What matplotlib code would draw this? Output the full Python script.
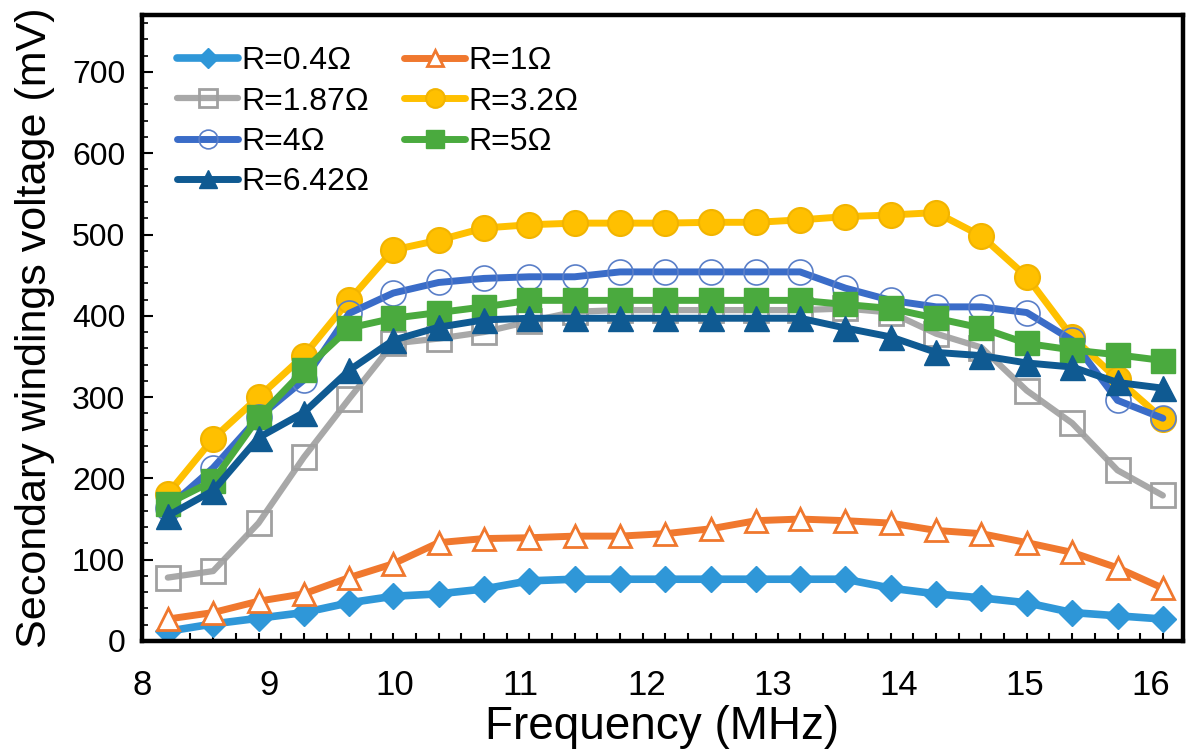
import numpy as np
import matplotlib
matplotlib.use("Agg")
import matplotlib.pyplot as plt
from matplotlib.ticker import FixedLocator, MultipleLocator

plt.rcParams['font.family'] = ['Liberation Sans', 'DejaVu Sans']

# Measurement frequencies (MHz)
freq = [8.20, 8.56, 8.92, 9.28, 9.64, 9.99, 10.35, 10.71, 11.07, 11.43, 11.79,
        12.15, 12.51, 12.87, 13.22, 13.58, 13.94, 14.30, 14.66, 15.02, 15.38,
        15.74, 16.10]

# Secondary windings voltage (mV) for each load resistance
v_r04 = [12, 21, 28, 35, 47, 55, 58, 64, 74, 76, 76, 76, 76, 76, 76, 76, 65,
         58, 53, 47, 35, 31, 27]
v_r1 = [27, 35, 49, 58, 78, 95, 121, 126, 127, 129, 129, 132, 138, 148, 150,
        148, 145, 136, 132, 121, 109, 90, 65]
v_r187 = [78, 86, 145, 226, 298, 366, 372, 380, 393, 405, 407, 407, 407, 407,
          407, 409, 404, 378, 361, 308, 268, 210, 179]
v_r32 = [181, 249, 300, 351, 419, 481, 493, 508, 512, 514, 514, 514, 515, 515,
         518, 522, 524, 527, 498, 448, 374, 322, 273]
v_r4 = [164, 213, 275, 321, 403, 428, 441, 446, 448, 448, 454, 454, 454, 454,
        454, 434, 419, 411, 411, 404, 370, 296, 274]
v_r5 = [169, 197, 275, 333, 385, 397, 404, 411, 419, 419, 419, 419, 419, 419,
        419, 414, 409, 397, 385, 366, 358, 352, 345]
v_r642 = [154, 185, 250, 281, 333, 370, 386, 395, 397, 397, 397, 397, 397, 397,
          397, 385, 374, 355, 351, 342, 337, 318, 311]

labels = ['R=0.4Ω', 'R=1Ω', 'R=1.87Ω', 'R=3.2Ω', 'R=4Ω', 'R=5Ω', 'R=6.42Ω']
y_ticks = [0, 100, 200, 300, 400, 500, 600, 700]
x_ticks = [8, 9, 10, 11, 12, 13, 14, 15, 16]

styles = [
    dict(color='#2F97D8', marker='D', ms=13, mfc='#2F97D8', mec='#2F97D8', lw=5.5),
    dict(color='#F0782E', marker='^', ms=16, mfc='white', mec='#F0782E', mew=2, lw=5),
    dict(color='#A8A8A8', marker='s', ms=17, mfc='none', mec='#A0A0A0', mew=2, lw=4.5),
    dict(color='#FFC000', marker='o', ms=18, mfc='#FFC000', mec='#F2B400', mew=1.5, lw=5),
    dict(color='#3A6CC8', marker='o', ms=18, mfc='none', mec='#5A7FC8', mew=1.2, lw=5),
    dict(color='#4AAA3E', marker='s', ms=17, mfc='#4AAA3E', mec='#4AAA3E', lw=5),
    dict(color='#0F5A92', marker='^', ms=18, mfc='#0F5A92', mec='#0F5A92', lw=5),
]
series = [v_r04, v_r1, v_r187, v_r32, v_r4, v_r5, v_r642]

fig = plt.figure(figsize=(11.91, 7.54), dpi=100)
ax = fig.add_axes([142 / 1191, 1 - 641 / 754, 1041 / 1191, 626 / 754])

handles = []
for vals, st, lab in zip(series, styles, labels):
    h, = ax.plot(freq, vals, label=lab, solid_joinstyle='round',
                 solid_capstyle='round', **st)
    handles.append(h)

ax.set_xlim(7.995, 16.26)
ax.set_ylim(0, 770)

# x: labelled integers, tick marks at each frequency and half-step
ax.xaxis.set_major_locator(FixedLocator(x_ticks))
mids = [(a + b) / 2 for a, b in zip(freq[:-1], freq[1:])]
ax.xaxis.set_minor_locator(FixedLocator(sorted(freq + mids)))
ax.yaxis.set_major_locator(FixedLocator(y_ticks))
ax.yaxis.set_minor_locator(MultipleLocator(20))

ax.tick_params(axis='x', which='major', length=0, pad=20, labelsize=25)
ax.tick_params(axis='x', which='minor', direction='in', length=6, width=1.5)
ax.tick_params(axis='y', which='major', direction='in', length=8, width=1.5,
               pad=12, labelsize=23)
ax.tick_params(axis='y', which='minor', direction='in', length=4, width=1.2)

for side, sp in ax.spines.items():
    sp.set_linewidth(3.2)
    sp.set_color('black')

ax.set_xlabel('Frequency (MHz)', fontsize=33, labelpad=2)
ax.set_ylabel('Secondary windings voltage (mV)', fontsize=31, labelpad=12)

# legend filled row by row: two columns
order = [0, 2, 4, 6, 1, 3, 5]
ax.legend([handles[i] for i in order], [labels[i] for i in order],
          ncol=2, loc='upper left', bbox_to_anchor=(0.034, 0.95),
          borderaxespad=0, borderpad=0, frameon=False, fontsize=23,
          handlelength=1.9, handletextpad=0.1, columnspacing=1.1,
          labelspacing=0.32, markerscale=0.75)

fig.savefig('out.png', dpi=100)
